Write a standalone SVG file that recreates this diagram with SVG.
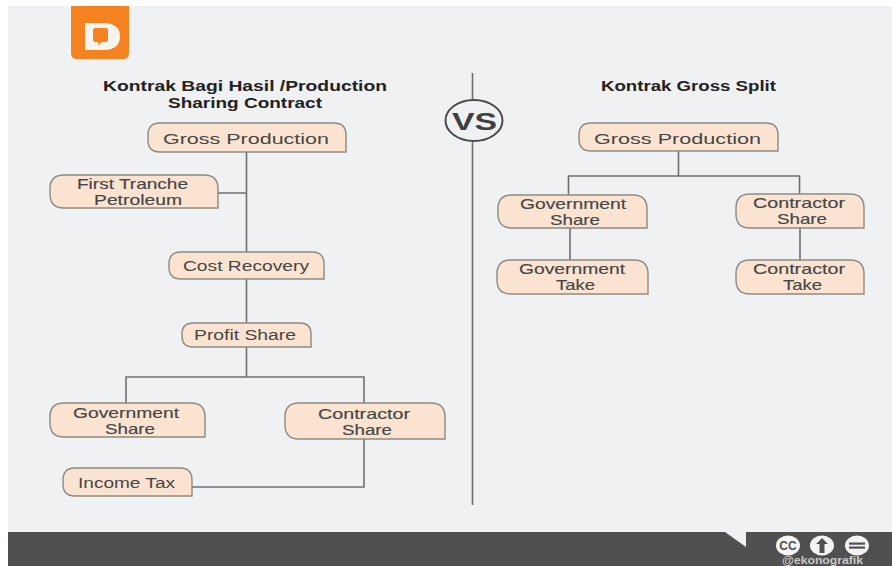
<svg xmlns="http://www.w3.org/2000/svg" width="892" height="566" viewBox="0 0 892 566">
<style>
.n{fill:#fae4d1;stroke:#8e8983;stroke-width:1.4}
.t{font-family:"Liberation Sans",Arial,sans-serif;font-size:15.500px;fill:#464646}
.s{font-family:"Liberation Sans",Arial,sans-serif;font-size:13.900px;fill:#464646;stroke:#464646;stroke-width:.15}
.h{font-family:"Liberation Sans",Arial,sans-serif;font-size:14.500px;font-weight:700;fill:#222}
.c{fill:none;stroke:#6f6f70;stroke-width:1.6}
</style>
<rect width="892" height="566" fill="#fff"/>
<rect x="8" y="6" width="884" height="526" fill="#f0f1f3"/>
<rect x="8" y="532" width="884" height="34" fill="#505051"/>
<path d="M725 532H746V547Z" fill="#f0f1f3"/>
<g id="logo">
<path d="M71 6H129V53Q129 59 123 59H77Q71 59 71 53Z" fill="#f58220"/>
<path d="M85 23H103Q120 23 120 36.500Q120 50 103 50H85Z" fill="#f7f3ee"/>
<path d="M95 28H106Q108 28 108 30V40Q108 42 106 42H102L98 45V42H95Q93 42 93 40V30Q93 28 95 28Z" fill="#f58220"/>
</g>
<g id="connectors">
<path class="c" d="M246.500 152V252M218 193H246.500M246.500 279V323M246.500 347V377M126 403V377H364V403M364 439V487H192"/>
<path class="c" d="M678.500 151V176M568.500 195V176H799.500V194M570 228V260M800 228V260"/>
<path class="c" d="M472.500 73V100M472.500 142V505"/>
</g>
<g id="vs">
<ellipse cx="474" cy="120.500" rx="28.500" ry="20.500" fill="#f0f1f3" stroke="#4a4a4b" stroke-width="2"/>
<text x="452" y="130" class="h" style="font-size:24px;fill:#3f3f40" textLength="45" lengthAdjust="spacingAndGlyphs">VS</text>
</g>
<g id="title-left">
<text class="h" x="103" y="91" textLength="284" lengthAdjust="spacingAndGlyphs">Kontrak Bagi Hasil /Production</text>
<text class="h" x="168" y="108" textLength="154" lengthAdjust="spacingAndGlyphs">Sharing Contract</text>
</g>
<g id="title-right">
<text class="h" x="601" y="91" textLength="175" lengthAdjust="spacingAndGlyphs">Kontrak Gross Split</text>
</g>
<g id="l-gross">
<path class="n" d="M160 123H334Q346 123 346 135V152H160Q148 152 148 140V135Q148 123 160 123Z"/>
<text class="t" x="163" y="143.500" textLength="166" lengthAdjust="spacingAndGlyphs">Gross Production</text>
</g>
<g id="l-first-tranche">
<path class="n" d="M64 175H204Q218 175 218 189V208H64Q50 208 50 194V189Q50 175 64 175Z"/>
<text class="s" x="77" y="188.500" textLength="111" lengthAdjust="spacingAndGlyphs">First Tranche</text>
<text class="s" x="94" y="204.500" textLength="88" lengthAdjust="spacingAndGlyphs">Petroleum</text>
</g>
<g id="l-cost-recovery">
<path class="n" d="M181 252H312Q324 252 324 264V279H181Q169 279 169 267V264Q169 252 181 252Z"/>
<text class="t" x="183" y="271" textLength="126" lengthAdjust="spacingAndGlyphs">Cost Recovery</text>
</g>
<g id="l-profit-share">
<path class="n" d="M193 323H300Q311 323 311 334V347H193Q182 347 182 336V334Q182 323 193 323Z"/>
<text class="t" x="194" y="340" textLength="102" lengthAdjust="spacingAndGlyphs">Profit Share</text>
</g>
<g id="l-gov-share">
<path class="n" d="M64 403H191Q205 403 205 417V437H64Q50 437 50 423V417Q50 403 64 403Z"/>
<text class="s" x="73" y="417.500" textLength="106" lengthAdjust="spacingAndGlyphs">Government</text>
<text class="s" x="105" y="433.500" textLength="50" lengthAdjust="spacingAndGlyphs">Share</text>
</g>
<g id="l-contractor-share">
<path class="n" d="M299 403H431Q445 403 445 417V439H299Q285 439 285 425V417Q285 403 299 403Z"/>
<text class="s" x="318" y="418.500" textLength="92" lengthAdjust="spacingAndGlyphs">Contractor</text>
<text class="s" x="342" y="434.500" textLength="50" lengthAdjust="spacingAndGlyphs">Share</text>
</g>
<g id="l-income-tax">
<path class="n" d="M75 468H180Q192 468 192 480V496H75Q63 496 63 484V480Q63 468 75 468Z"/>
<text class="t" x="78" y="488" textLength="97" lengthAdjust="spacingAndGlyphs">Income Tax</text>
</g>
<g id="r-gross">
<path class="n" d="M591 123H766Q778 123 778 135V151H591Q579 151 579 139V135Q579 123 591 123Z"/>
<text class="t" x="594" y="143.500" textLength="167" lengthAdjust="spacingAndGlyphs">Gross Production</text>
</g>
<g id="r-gov-share">
<path class="n" d="M512 195H633Q647 195 647 209V228H512Q498 228 498 214V209Q498 195 512 195Z"/>
<text class="s" x="520" y="208.500" textLength="106" lengthAdjust="spacingAndGlyphs">Government</text>
<text class="s" x="550" y="224.500" textLength="50" lengthAdjust="spacingAndGlyphs">Share</text>
</g>
<g id="r-contractor-share">
<path class="n" d="M750 194H850Q864 194 864 208V228H750Q736 228 736 214V208Q736 194 750 194Z"/>
<text class="s" x="753" y="208" textLength="92" lengthAdjust="spacingAndGlyphs">Contractor</text>
<text class="s" x="777" y="224" textLength="50" lengthAdjust="spacingAndGlyphs">Share</text>
</g>
<g id="r-gov-take">
<path class="n" d="M511 260H634Q648 260 648 274V294H511Q497 294 497 280V274Q497 260 511 260Z"/>
<text class="s" x="519" y="274" textLength="106" lengthAdjust="spacingAndGlyphs">Government</text>
<text class="s" x="556" y="290" textLength="39" lengthAdjust="spacingAndGlyphs">Take</text>
</g>
<g id="r-contractor-take">
<path class="n" d="M750 260H850Q864 260 864 274V294H750Q736 294 736 280V274Q736 260 750 260Z"/>
<text class="s" x="753" y="274" textLength="92" lengthAdjust="spacingAndGlyphs">Contractor</text>
<text class="s" x="783" y="290" textLength="39" lengthAdjust="spacingAndGlyphs">Take</text>
</g>
<g id="footer-icons">
<ellipse cx="788" cy="545.500" rx="12" ry="10" fill="#f4f4f4"/>
<text x="788" y="550" text-anchor="middle" style="font-family:'Liberation Sans',Arial,sans-serif;font-size:12px;font-weight:700;fill:#505051">CC</text>
<ellipse cx="822" cy="545.500" rx="12" ry="10" fill="#f4f4f4"/>
<path d="M822 538L828 544H824.500V553H819.500V544H816Z" fill="#505051"/>
<ellipse cx="857" cy="545.500" rx="12" ry="10" fill="#f4f4f4"/>
<rect x="849" y="542.500" width="16" height="2.200" fill="#505051"/>
<rect x="849" y="546.500" width="16" height="2.200" fill="#505051"/>
<text x="782" y="563.500" textLength="81" lengthAdjust="spacingAndGlyphs" style="font-family:'Liberation Sans',Arial,sans-serif;font-size:10px;font-weight:700;fill:#c8c8c8">@ekonografik</text>
</g>
</svg>
